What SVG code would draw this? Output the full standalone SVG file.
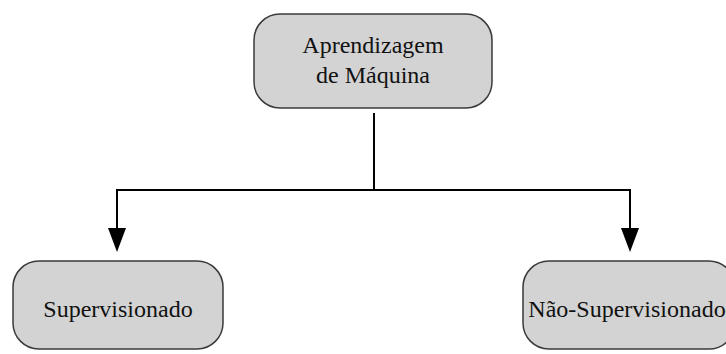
<svg xmlns="http://www.w3.org/2000/svg" width="726" height="354" viewBox="0 0 726 354">
<defs>
<style>
.box{fill:#d3d3d3;stroke:#3a3a3a;stroke-width:1.5}
.t{font-family:"Liberation Serif","Times New Roman",serif;font-size:24px;fill:#111;text-anchor:middle}
.ln{fill:none;stroke:#000;stroke-width:2}
.ah{fill:#000}
</style>
</defs>
<rect width="726" height="354" fill="#fff"/>
<g id="connectors">
<path class="ln" d="M374,113 V190"/>
<path class="ln" d="M117,190 H630"/>
<path class="ln" d="M117,189 V230"/>
<path class="ln" d="M630,189 V230"/>
<path class="ah" d="M108,228 L126,228 L117,252 Z"/>
<path class="ah" d="M621,228 L639,228 L630,252 Z"/>
</g>
<g id="root">
<rect class="box" x="254" y="14" width="238" height="94" rx="26"/>
<text class="t" x="373" y="53">Aprendizagem</text>
<text class="t" x="373" y="83">de Máquina</text>
</g>
<g id="supervisionado">
<rect class="box" x="13" y="261" width="210" height="88" rx="26"/>
<text class="t" x="118" y="317">Supervisionado</text>
</g>
<g id="nao-supervisionado">
<rect class="box" x="523" y="261" width="212" height="88" rx="26"/>
<text class="t" x="627" y="317">Não-Supervisionado</text>
</g>
</svg>
